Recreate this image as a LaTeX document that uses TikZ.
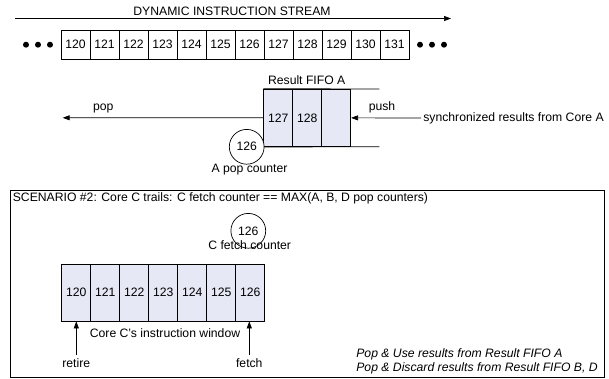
\documentclass[tikz,border=0pt]{standalone}
\usepackage{fontspec}
\setmainfont{Liberation Sans}
\usetikzlibrary{arrows.meta}
\definecolor{cellfill}{RGB}{230,232,245}
\begin{document}
\begin{tikzpicture}[
x=1pt, y=-1pt,
font=\fontsize{12.2pt}{14pt}\selectfont,
line width=0.7pt,
cell/.style={draw, inner sep=0pt, minimum width=29pt},
streamcell/.style={cell, minimum height=29.3pt},
fifocell/.style={cell, fill=cellfill, minimum height=57.7pt},
wincell/.style={cell, fill=cellfill, minimum height=57pt},
counter/.style={draw, circle, fill=white, inner sep=0pt, minimum size=34.8pt},
arrow/.style={-{Triangle[length=7pt,width=5pt]}}
]
\useasboundingbox (0,0) rectangle (609,379);

% instruction stream
\coordinate (streamL) at (15,18.5);
\coordinate (streamR) at (451,18.5);
\draw[arrow] (streamL) -- (streamR);
\node (streamlabel) at (232,11.5) {DYNAMIC INSTRUCTION STREAM};
\foreach \i in {0,...,11} {
  \pgfmathtruncatemacro{\n}{120+\i}
  \node[streamcell] (s\n) at ({61+29*(\i+0.5)},44.7) {\n};
}
\foreach \x in {26,38,50,420,432,444}
  \fill (\x,44.7) circle (3pt);

% result fifo A
\node[fifocell] (f1) at (278.2,117.85) {127};
\node[fifocell] (f2) at (307.2,117.85) {128};
\node[fifocell] (f3) at (336.2,117.85) {};
\coordinate (fifoTE) at (379.3,89);
\coordinate (fifoBE) at (379.3,146.7);
\draw (f1.north west) -- (fifoTE);
\draw (f1.south west) -- (fifoBE);
\node (fifolabel) at (306.7,80) {Result FIFO A};

\coordinate (popEnd) at (62.7,117.8);
\draw[arrow] (f1.west) -- (popEnd);
\node (poplabel) at (103.3,108.5) {pop};
\node[anchor=west, inner sep=2pt] (syncsrc) at (421,118) {synchronized results from Core A};
\draw[arrow] (syncsrc.west) -- (f3.east);
\node (pushlabel) at (382,107.5) {push};

\node[counter] (popA) at (246.7,146.8) {126};
\node (popAlabel) at (249.5,170) {A pop counter};

% scenario 2
\node[draw, anchor=north west, inner sep=0pt, minimum width=594pt, minimum height=187.3pt] (scenario) at (10,190) {};
\node[anchor=north west, inner sep=2.5pt] (scentitle) at (scenario.north west) {SCENARIO \#2: Core C trails: C fetch counter == MAX(A, B, D pop counters)};

\node[counter] (fetchC) at (248.3,230.8) {126};
\node (fetchClabel) at (249.7,245.5) {C fetch counter};

\foreach \i in {0,...,6} {
  \pgfmathtruncatemacro{\n}{120+\i}
  \node[wincell] (w\n) at ({61.7+29*(\i+0.5)},292.5) {\n};
}
\node (winlabel) at (165,333) {Core C's instruction window};

\node (retire) at (76.3,363) {retire};
\node (fetch) at (249.3,363) {fetch};
\draw[arrow] (retire.north) -- (retire.north |- w120.south);
\draw[arrow] (fetch.north) -- (fetch.north |- w126.south);

\node[anchor=north west, align=left, font=\fontsize{12.2pt}{14pt}\selectfont\itshape, inner sep=0pt] (note) at (356,348)
  {Pop \& Use results from Result FIFO A\\Pop \& Discard results from Result FIFO B, D};
\end{tikzpicture}
\end{document}
